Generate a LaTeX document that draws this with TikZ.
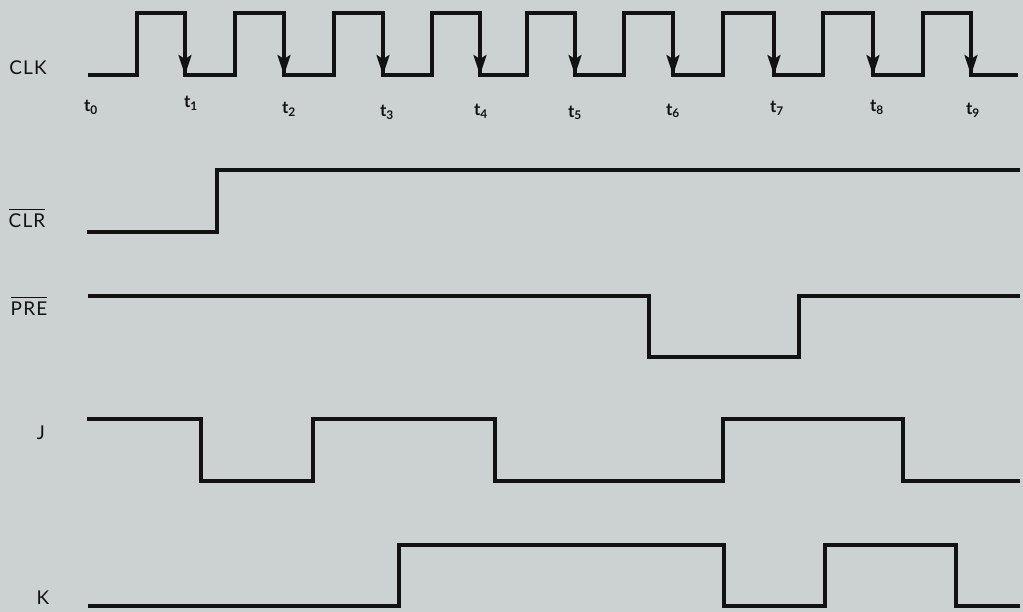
\documentclass[tikz,border=0pt]{standalone}
\usepackage{fontspec}
\setmainfont{Lato}
\usetikzlibrary{arrows.meta}
\definecolor{paper}{RGB}{204,209,209}
\definecolor{ink}{RGB}{18,18,18}
\tikzset{
  wave/.style={draw=ink, line width=3.2pt, line join=miter},
  edgearrow/.style={draw=ink, line width=3.2pt, -{Stealth[length=20pt,width=13pt,inset=4pt]}},
  siglabel/.style={text=ink, font=\fontsize{19}{22}\selectfont\addfontfeatures{LetterSpace=6}, inner sep=0pt},
  tlabel/.style={text=ink, font=\fontsize{17}{20}\selectfont\bfseries, inner sep=0pt}
}
\newcommand{\tsub}[1]{t\textsubscript{#1}}
\newcommand{\barlabel}[1]{$\overline{\mbox{\rule{0pt}{17.5pt}#1}}$}
\begin{document}
\begin{tikzpicture}[x=1pt,y=-1pt]
\fill[paper] (0,0) rectangle (1023,612);
\useasboundingbox (0,0) rectangle (1023,612);

% signal labels
\node[siglabel] (lclk) at (28,68) {CLK};
\node[siglabel] (lclr) at (27,218) {\barlabel{CLR}};
\node[siglabel] (lpre) at (29,306) {\barlabel{PRE}};
\node[siglabel] (lj) at (41,433) {J};
\node[siglabel] (lk) at (43,598) {K};

% time labels
\node[tlabel] (t0) at (91,107) {\tsub{0}};
\node[tlabel] (t1) at (191,103) {\tsub{1}};
\node[tlabel] (t2) at (289,109) {\tsub{2}};
\node[tlabel] (t3) at (387,112) {\tsub{3}};
\node[tlabel] (t4) at (481,111) {\tsub{4}};
\node[tlabel] (t5) at (575,113) {\tsub{5}};
\node[tlabel] (t6) at (673,111) {\tsub{6}};
\node[tlabel] (t7) at (777,108) {\tsub{7}};
\node[tlabel] (t8) at (877,107) {\tsub{8}};
\node[tlabel] (t9) at (973,110) {\tsub{9}};

% CLK
\draw[wave] (88,75) -- (137,75) -- (137,13) -- (185,13) -- (185,75)
  -- (235,75) -- (235,13) -- (284,13) -- (284,75)
  -- (334,75) -- (334,13) -- (383,13) -- (383,75)
  -- (432,75) -- (432,13) -- (480,13) -- (480,75)
  -- (527,75) -- (527,13) -- (575,13) -- (575,75)
  -- (624,75) -- (624,13) -- (673,13) -- (673,75)
  -- (723,75) -- (723,13) -- (774,13) -- (774,75)
  -- (823,75) -- (823,13) -- (873,13) -- (873,75)
  -- (923,75) -- (923,13) -- (971,13) -- (971,75)
  -- (1018,75);
\foreach \x in {185,284,383,480,575,673,774,873,971}
  \draw[edgearrow] (\x,40) -- (\x,75);

% CLR
\draw[wave] (87,232) -- (217,232) -- (217,170) -- (1020,170);

% PRE
\draw[wave] (88,296) -- (649,296) -- (649,357) -- (799,357) -- (799,296) -- (1020,296);

% J
\draw[wave] (87,419) -- (201,419) -- (201,481) -- (313,481) -- (313,419)
  -- (495,419) -- (495,481) -- (723,481) -- (723,419)
  -- (903,419) -- (903,481) -- (1020,481);

% K
\draw[wave] (88,606) -- (399,606) -- (399,545) -- (724,545) -- (724,606)
  -- (825,606) -- (825,545) -- (956,545) -- (956,606) -- (1020,606);
\end{tikzpicture}
\end{document}
